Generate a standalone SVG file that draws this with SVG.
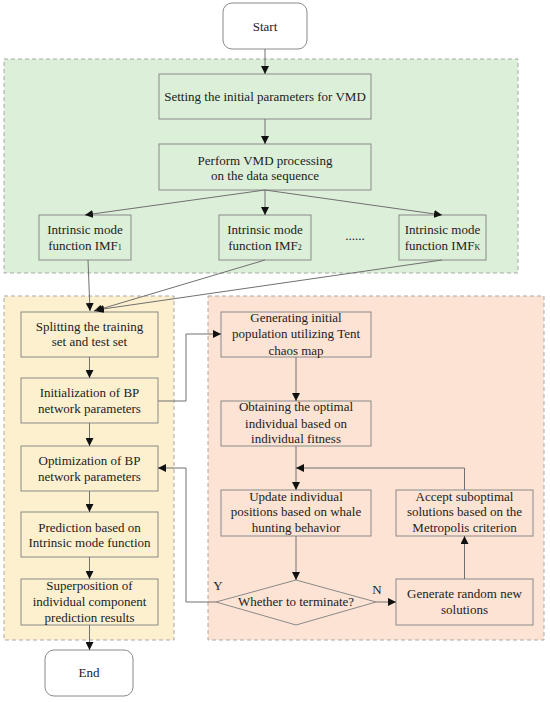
<svg xmlns="http://www.w3.org/2000/svg" width="550" height="702" viewBox="0 0 550 702">
<defs>
<marker id="ah" viewBox="0 0 10 10" refX="10" refY="5" markerWidth="8" markerHeight="8" markerUnits="userSpaceOnUse" orient="auto">
<path d="M0,0 L10,5 L0,10 z" fill="#111"/>
</marker>
<style>
.t{font-family:'Liberation Serif','Times New Roman','DejaVu Serif',serif;font-size:13px;fill:#222;text-anchor:middle}
.b{stroke:#8a8a8a;stroke-width:1}
.r{stroke:#a8a8a8;stroke-width:1;stroke-dasharray:4,3}
.c{fill:none;stroke:#707070;stroke-width:1}
.s{font-size:8px}
</style>
</defs>
<rect width="550" height="702" fill="#fff"/>
<g id="regions">
<rect class="r" x="4" y="59" width="514" height="214" fill="#dcefd8"/>
<rect class="r" x="4" y="296" width="170" height="344" fill="#fdf0cf"/>
<rect class="r" x="208" y="296" width="336" height="344" fill="#fce3d3"/>
</g>
<g font-family="'Liberation Serif', serif">
<g id="start"><rect class="b" x="223" y="3" width="84" height="46" rx="9" fill="#fff"/><text class="t" x="265" y="31">Start</text></g>
<g id="vmd-params"><rect class="b" x="159" y="74" width="212" height="45" fill="#dcefd8"/><text class="t" x="265" y="101">Setting the initial parameters for VMD</text></g>
<g id="vmd-proc"><rect class="b" x="159" y="144" width="212" height="46" fill="#dcefd8"/><text class="t" x="265" y="164.5">Perform VMD processing</text><text class="t" x="265" y="179.5">on the data sequence</text></g>
<g id="imf1"><rect class="b" x="39" y="215" width="92" height="45" fill="#dcefd8"/><text class="t" x="85" y="234">Intrinsic mode</text><text class="t" x="85" y="250">function IMF<tspan class="s">1</tspan></text></g>
<g id="imf2"><rect class="b" x="219" y="215" width="92" height="45" fill="#dcefd8"/><text class="t" x="265" y="234">Intrinsic mode</text><text class="t" x="265" y="250">function IMF<tspan class="s">2</tspan></text></g>
<g id="dots"><text class="t" x="355" y="240">......</text></g>
<g id="imfk"><rect class="b" x="399" y="215" width="87" height="45" fill="#dcefd8"/><text class="t" x="442.5" y="234">Intrinsic mode</text><text class="t" x="442.5" y="250">function IMF<tspan class="s">K</tspan></text></g>
<g id="split"><rect class="b" x="21" y="312" width="137" height="45" fill="#fdf0cf"/><text class="t" x="89.5" y="331">Splitting the training</text><text class="t" x="89.5" y="346">set and test set</text></g>
<g id="init"><rect class="b" x="21" y="378" width="137" height="45" fill="#fdf0cf"/><text class="t" x="89.5" y="397">Initialization of BP</text><text class="t" x="89.5" y="413">network parameters</text></g>
<g id="opt"><rect class="b" x="21" y="446" width="137" height="45" fill="#fdf0cf"/><text class="t" x="89.5" y="465">Optimization of BP</text><text class="t" x="89.5" y="481">network parameters</text></g>
<g id="pred"><rect class="b" x="21" y="512" width="137" height="45" fill="#fdf0cf"/><text class="t" x="89.5" y="532">Prediction based on</text><text class="t" x="89.5" y="547">Intrinsic mode function</text></g>
<g id="super"><rect class="b" x="21" y="579" width="137" height="46" fill="#fdf0cf"/><text class="t" x="89.5" y="590">Superposition of</text><text class="t" x="89.5" y="606">individual component</text><text class="t" x="89.5" y="622">prediction results</text></g>
<g id="end"><rect class="b" x="45" y="650" width="88" height="46" rx="9" fill="#fff"/><text class="t" x="89" y="677">End</text></g>
<g id="gen-pop"><rect class="b" x="221" y="312" width="150" height="45" fill="#fce3d3"/><text class="t" x="296" y="322">Generating initial</text><text class="t" x="296" y="338">population utilizing Tent</text><text class="t" x="296" y="355">chaos map</text></g>
<g id="obtain"><rect class="b" x="221" y="401" width="150" height="45" fill="#fce3d3"/><text class="t" x="296" y="411">Obtaining the optimal</text><text class="t" x="296" y="428">individual based on</text><text class="t" x="296" y="443">individual fitness</text></g>
<g id="update"><rect class="b" x="221" y="490" width="150" height="46" fill="#fce3d3"/><text class="t" x="296" y="501">Update individual</text><text class="t" x="296" y="516">positions based on whale</text><text class="t" x="296" y="532">hunting behavior</text></g>
<g id="accept"><rect class="b" x="396" y="490" width="137" height="46" fill="#fce3d3"/><text class="t" x="464.5" y="501">Accept suboptimal</text><text class="t" x="464.5" y="516">solutions based on the</text><text class="t" x="464.5" y="532">Metropolis criterion</text></g>
<g id="decision"><polygon class="b" points="296,580 376,602 296,625 216,602" fill="#fce3d3"/><text class="t" x="296" y="606">Whether to terminate?</text></g>
<g id="random"><rect class="b" x="396" y="579" width="137" height="46" fill="#fce3d3"/><text class="t" x="464.5" y="598">Generate random new</text><text class="t" x="464.5" y="614">solutions</text></g>
<g id="labels"><text class="t" x="218" y="590">Y</text><text class="t" x="377" y="594">N</text></g>
</g>
<g id="connectors">
<path class="c" d="M265,49 V74" marker-end="url(#ah)"/>
<path class="c" d="M265,119 V144" marker-end="url(#ah)"/>
<path class="c" d="M265,190 L85,215" marker-end="url(#ah)"/>
<path class="c" d="M265,190 V215" marker-end="url(#ah)"/>
<path class="c" d="M265,190 L442,215" marker-end="url(#ah)"/>
<path class="c" d="M88,260 L90,311" marker-end="url(#ah)"/>
<path class="c" d="M265,260 L94,311" marker-end="url(#ah)"/>
<path class="c" d="M442,260 L96,310" marker-end="url(#ah)"/>
<path class="c" d="M89.5,357 V378" marker-end="url(#ah)"/>
<path class="c" d="M89.5,423 V446" marker-end="url(#ah)"/>
<path class="c" d="M89.5,491 V512" marker-end="url(#ah)"/>
<path class="c" d="M89.5,557 V579" marker-end="url(#ah)"/>
<path class="c" d="M89.5,625 V650" marker-end="url(#ah)"/>
<path class="c" d="M158,401 H186 V334 H221" marker-end="url(#ah)"/>
<path class="c" d="M296,357 V401" marker-end="url(#ah)"/>
<path class="c" d="M296,446 V490" marker-end="url(#ah)"/>
<path class="c" d="M296,536 V580" marker-end="url(#ah)"/>
<path class="c" d="M376,602 H396" marker-end="url(#ah)"/>
<path class="c" d="M464.5,579 V536" marker-end="url(#ah)"/>
<path class="c" d="M464.5,490 V468 H296" marker-end="url(#ah)"/>
<path class="c" d="M216,602 H186 V468 H158" marker-end="url(#ah)"/>
</g>
</svg>
